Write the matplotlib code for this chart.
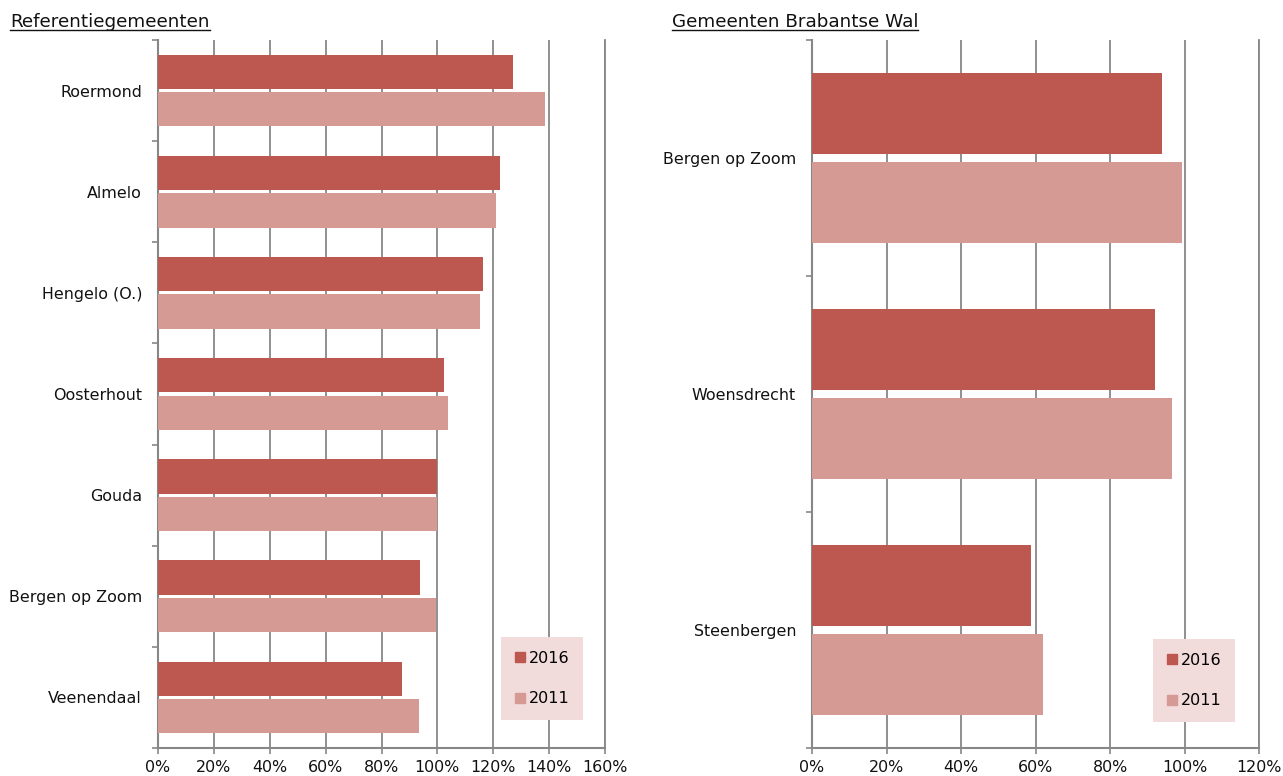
import numpy as np
import matplotlib
matplotlib.use('Agg')
import matplotlib.pyplot as plt
from matplotlib.lines import Line2D
from matplotlib.ticker import FixedLocator, FuncFormatter

plt.rcParams['font.family'] = ['DejaVu Sans']

# links: referentiegemeenten
ref_names = ['Roermond', 'Almelo', 'Hengelo (O.)', 'Oosterhout', 'Gouda', 'Bergen op Zoom', 'Veenendaal']
ref_2016 = [127.0, 122.4, 116.3, 102.4, 99.9, 93.8, 87.3]
ref_2011 = [138.5, 121.0, 115.2, 103.8, 99.9, 99.5, 93.4]

# rechts: gemeenten Brabantse Wal
bw_names = ['Bergen op Zoom', 'Woensdrecht', 'Steenbergen']
bw_2016 = [94.0, 92.1, 58.8]
bw_2011 = [99.3, 96.6, 62.0]

years = ['2016', '2011']
kleur_2016 = '#bc5850'
kleur_2011 = '#d59a94'
grijs = '#878787'

fig = plt.figure(figsize=(12.83, 7.76), dpi=100)
ax1 = fig.add_axes([158/1283, 28/776, 447/1283, 708/776])
ax2 = fig.add_axes([812/1283, 28/776, 447/1283, 708/776])


def teken(ax, names, v16, v11, xmax, h, gap, legpos):
    y = np.arange(len(names))
    ax.barh(y - (h + gap) / 2, v16, height=h, color=kleur_2016, zorder=3, label=years[0])
    ax.barh(y + (h + gap) / 2, v11, height=h, color=kleur_2011, zorder=3, label=years[1])
    ax.set_ylim(len(names) - 0.5, -0.5)
    ax.set_xlim(0, xmax)
    ax.set_xticks(np.arange(0, xmax + 1, 20))
    ax.xaxis.set_major_formatter(FuncFormatter(lambda v, p: '%d%%' % v))
    ax.set_yticks(y)
    ax.set_yticklabels(names)
    ax.yaxis.set_minor_locator(FixedLocator(np.arange(-0.5, len(names), 1.0)))
    ax.tick_params(axis='y', which='major', length=0, pad=11.5, labelsize=11.4, colors='#111111')
    ax.tick_params(axis='y', which='minor', length=4, width=1.2, color=grijs)
    ax.tick_params(axis='x', length=4, width=1.2, color=grijs, labelsize=11.4, labelcolor='#111111', pad=4.5)
    ax.grid(axis='x', color=grijs, linewidth=1.3, zorder=0)
    ax.set_axisbelow(True)
    for s in ['top', 'right']:
        ax.spines[s].set_visible(False)
    for s in ['left', 'bottom']:
        ax.spines[s].set_color(grijs)
        ax.spines[s].set_linewidth(1.5)
    ax.axvline(xmax, color=grijs, linewidth=1.3, clip_on=False, zorder=0)
    handles = [Line2D([], [], marker='s', linestyle='none', markersize=7, color=kleur_2016),
               Line2D([], [], marker='s', linestyle='none', markersize=7, color=kleur_2011)]
    leg = ax.legend(handles, years, loc='lower left', bbox_to_anchor=legpos, fontsize=11.5,
                    frameon=True, fancybox=False, labelspacing=1.6, handlelength=0.7,
                    handletextpad=0.2, borderpad=0.85, borderaxespad=0)
    leg.get_frame().set_facecolor('#f2dcdb')
    leg.get_frame().set_edgecolor('none')
    leg.get_frame().set_alpha(1)


teken(ax1, ref_names, ref_2016, ref_2011, 160, 0.34, 0.03, ((501 - 158) / 447, (748 - 720) / 708))
teken(ax2, bw_names, bw_2016, bw_2011, 120, 0.345, 0.034, ((1153 - 812) / 447, (748 - 722) / 708))

t1 = fig.text(10/1283, 1 - 27/776, 'Referentiegemeenten', fontsize=13.2, color='#111111')
t2 = fig.text(672/1283, 1 - 27/776, 'Gemeenten Brabantse Wal', fontsize=13.2, color='#111111')

# onderstreping
fig.canvas.draw()
r = fig.canvas.get_renderer()
for t in [t1, t2]:
    bb = t.get_window_extent(r)
    yl = bb.y0 + 1
    fig.add_artist(Line2D([bb.x0 / 1283, bb.x1 / 1283], [yl / 776, yl / 776],
                          transform=fig.transFigure, color='#111111', linewidth=1))

fig.savefig('out.png', dpi=100)
